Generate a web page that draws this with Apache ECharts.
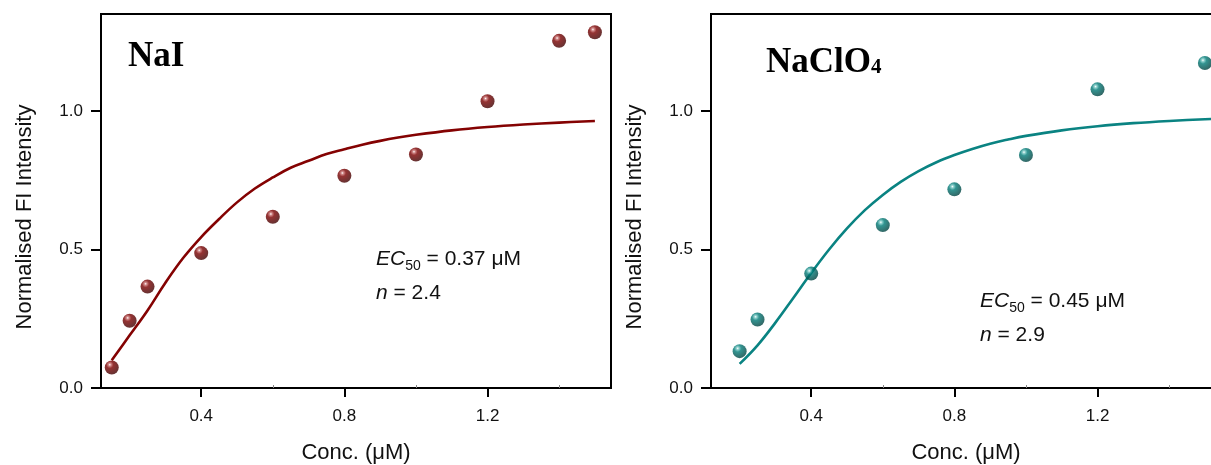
<!DOCTYPE html>
<html>
<head>
<meta charset="utf-8">
<script src="https://cdn.jsdelivr.net/npm/echarts@6/dist/echarts.min.js"></script>
<style>
html,body{margin:0;padding:0;background:#fff;}
#chart{width:1211px;height:465px;}
</style>
</head>
<body>
<div id="chart"></div>
<script>
// ---- data ----
const naiX = [0.15, 0.2, 0.25, 0.4, 0.6, 0.8, 1.0, 1.2, 1.4, 1.5];
const naiY = [0.074, 0.243, 0.366, 0.487, 0.618, 0.766, 0.843, 1.035, 1.253, 1.284];
const naiFitX = [0.15, 0.2, 0.25, 0.3, 0.35, 0.4, 0.45, 0.5, 0.55, 0.6, 0.65, 0.7, 0.75, 0.8, 0.85, 0.9, 0.95, 1.0, 1.1, 1.2, 1.3, 1.4, 1.5];
const naiFitY = [0.10, 0.19, 0.28, 0.38, 0.47, 0.545, 0.61, 0.67, 0.72, 0.76, 0.795, 0.82, 0.845, 0.862, 0.878, 0.892, 0.904, 0.914, 0.93, 0.942, 0.951, 0.958, 0.964];

const clo4X = [0.2, 0.25, 0.4, 0.6, 0.8, 1.0, 1.2, 1.5];
const clo4Y = [0.133, 0.247, 0.413, 0.588, 0.717, 0.841, 1.078, 1.173];
const clo4FitX = [0.2, 0.25, 0.3, 0.35, 0.4, 0.45, 0.5, 0.55, 0.6, 0.65, 0.7, 0.75, 0.8, 0.85, 0.9, 0.95, 1.0, 1.1, 1.2, 1.3, 1.4, 1.5, 1.6];
const clo4FitY = [0.087, 0.154, 0.236, 0.325, 0.415, 0.50, 0.576, 0.642, 0.697, 0.744, 0.783, 0.815, 0.841, 0.863, 0.882, 0.897, 0.910, 0.930, 0.945, 0.956, 0.964, 0.970, 0.975];

const xTicks = [0.4, 0.8, 1.2];
const xMinorTicks = [0.6, 1.0, 1.4];
const yTicks = [0.0, 0.5, 1.0];

const titles = ['NaI', 'NaClO'];
const titleSub = '4';
const ec50Text = ['0.37', '0.45'];
const nText = ['2.4', '2.9'];
const xName = 'Conc. (μM)';
const yName = 'Normalised FI Intensity';

// ---- build ----
const SANS = 'Liberation Sans, Arial, sans-serif';
const SERIF = 'Liberation Serif, Times New Roman, serif';
const zip = (a, b) => a.map((v, i) => [v, b[i]]);

function ball(base, dark, light) {
  return {
    type: 'radial', x: 0.36, y: 0.3, r: 0.75,
    colorStops: [
      { offset: 0, color: '#ffffff' },
      { offset: 0.12, color: light },
      { offset: 0.34, color: base },
      { offset: 1, color: dark }
    ]
  };
}

const grids = [
  { left: 101, top: 14, width: 510, height: 374, show: true, borderColor: '#000', borderWidth: 2, containLabel: false, outerBoundsMode: 'none' },
  { left: 711, top: 14, width: 510, height: 374, show: true, borderColor: '#000', borderWidth: 2, containLabel: false, outerBoundsMode: 'none' }
];

const xAxes = [], yAxes = [];
[0, 1].forEach(i => {
  xAxes.push({
    gridIndex: i, type: 'value', min: 0.12, max: 1.545, position: 'bottom',
    axisLine: { show: true, onZero: false, lineStyle: { color: '#000', width: 2 } },
    axisTick: { show: true, inside: false, length: 9, customValues: xTicks, lineStyle: { color: '#000', width: 2 } },
    axisLabel: { customValues: xTicks, formatter: v => v.toFixed(1), fontSize: 17, color: '#111', margin: 20, fontFamily: SANS },
    splitLine: { show: false },
    name: xName, nameLocation: 'middle', nameGap: 54,
    nameTextStyle: { fontSize: 22, color: '#111', fontFamily: SANS }
  });
  xAxes.push({
    gridIndex: i, type: 'value', min: 0.12, max: 1.545, position: 'bottom',
    axisLine: { show: false },
    axisTick: { show: true, inside: true, length: 3, customValues: xMinorTicks, lineStyle: { color: '#888', width: 1 } },
    axisLabel: { show: false }, splitLine: { show: false }
  });
  yAxes.push({
    gridIndex: i, type: 'value', min: 0, max: 1.35, position: 'left',
    axisLine: { show: true, onZero: false, lineStyle: { color: '#000', width: 2 } },
    axisTick: { show: true, inside: false, length: 10, customValues: yTicks, lineStyle: { color: '#000', width: 2 } },
    axisLabel: { customValues: yTicks, formatter: v => v.toFixed(1), fontSize: 17, color: '#111', margin: 18, fontFamily: SANS },
    splitLine: { show: false }
  });
});

const red = { line: '#840202', base: '#7a0000', dark: '#3c0000', light: '#c87070' };
const teal = { line: '#0a8382', base: '#007a76', dark: '#003d3b', light: '#78c8c4' };

const series = [
  { type: 'line', xAxisIndex: 0, yAxisIndex: 0, data: zip(naiFitX, naiFitY), smooth: 0.4,
    showSymbol: false, lineStyle: { color: red.line, width: 2.6 }, z: 2, silent: true },
  { type: 'scatter', xAxisIndex: 0, yAxisIndex: 0, data: zip(naiX, naiY), symbolSize: 14,
    itemStyle: { color: ball(red.base, red.dark, red.light) }, z: 3 },
  { type: 'line', xAxisIndex: 2, yAxisIndex: 1, data: zip(clo4FitX, clo4FitY), smooth: 0.4,
    showSymbol: false, lineStyle: { color: teal.line, width: 2.6 }, z: 2, silent: true },
  { type: 'scatter', xAxisIndex: 2, yAxisIndex: 1, data: zip(clo4X, clo4Y), symbolSize: 14,
    itemStyle: { color: ball(teal.base, teal.dark, teal.light) }, z: 3 }
];

const annoRich = {
  i: { fontSize: 21, fontStyle: 'italic', fontFamily: SANS, lineHeight: 28, fill: '#111' },
  s: { fontSize: 14, fontFamily: SANS, lineHeight: 14, verticalAlign: 'bottom', fill: '#111' },
  r: { fontSize: 21, fontFamily: SANS, lineHeight: 28, fill: '#111' }
};
function anno(x, y1, y2, idx) {
  return [
    { type: 'text', x: x, y: y1, z: 10, style: { text: '{i|EC}{s|50}{r| = ' + ec50Text[idx] + ' μM}', rich: annoRich, textVerticalAlign: 'middle', fill: '#111' } },
    { type: 'text', x: x, y: y2, z: 10, style: { text: '{i|n}{r| = ' + nText[idx] + '}', rich: annoRich, textVerticalAlign: 'middle', fill: '#111' } }
  ];
}
function yLabel(x, y) {
  return { type: 'text', x: x, y: y, rotation: Math.PI / 2, z: 10,
    style: { text: yName, font: '22px ' + SANS, fill: '#111', textAlign: 'center', textVerticalAlign: 'middle' } };
}

const graphic = [
  { type: 'text', x: 128, y: 57, z: 10, style: { text: titles[0], font: 'bold 35px ' + SERIF, fill: '#000', textVerticalAlign: 'middle' } },
  { type: 'text', x: 766, y: 63, z: 10, style: { text: titles[1], font: 'bold 35px ' + SERIF, fill: '#000', textVerticalAlign: 'middle' } },
  { type: 'text', x: 871, y: 67.5, z: 10, style: { text: titleSub, font: 'bold 21px ' + SERIF, fill: '#000', textVerticalAlign: 'middle' } },
  yLabel(25, 217),
  yLabel(635, 217)
].concat(anno(376, 259, 293, 0), anno(980, 301, 335, 1));

const chart = echarts.init(document.getElementById('chart'), null, { renderer: 'canvas' });
chart.setOption({
  animation: false,
  backgroundColor: '#fff',
  grid: grids,
  xAxis: xAxes,
  yAxis: yAxes,
  series: series,
  graphic: graphic
});
</script>
</body>
</html>
